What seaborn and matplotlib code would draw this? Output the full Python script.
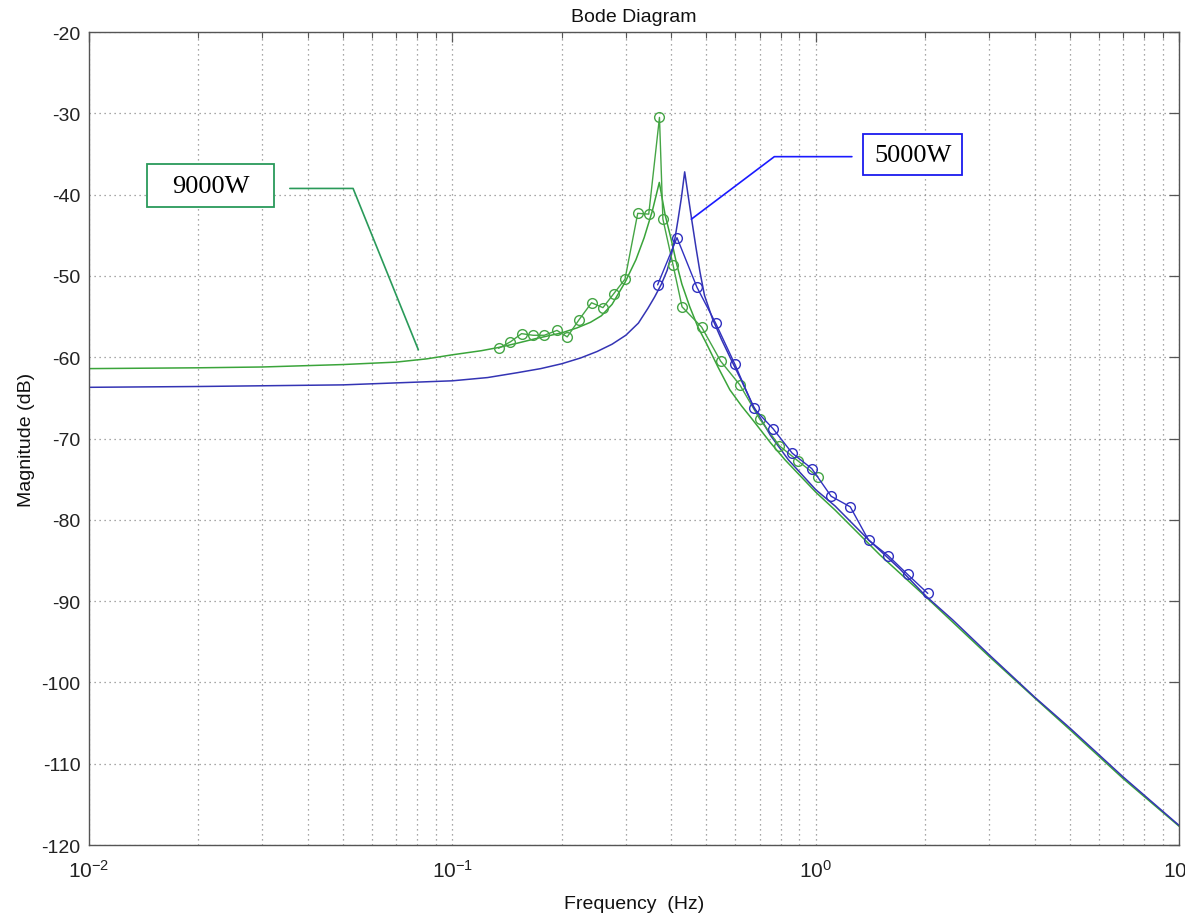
import numpy as np
import matplotlib
matplotlib.use("Agg")
import matplotlib.pyplot as plt
import seaborn as sns
from matplotlib.patches import Rectangle
from matplotlib.ticker import LogLocator, NullFormatter, FixedLocator

# ---------------- data ----------------
green_freq_smooth = [0.01, 0.02, 0.03, 0.05, 0.07, 0.085, 0.1, 0.12, 0.134, 0.15, 0.17,
                     0.2, 0.22, 0.24, 0.257, 0.275, 0.2985, 0.32, 0.337, 0.355, 0.371,
                     0.385, 0.40, 0.414, 0.428, 0.45, 0.474, 0.50, 0.538, 0.58, 0.625,
                     0.665, 0.75, 0.822, 1.0, 1.13, 1.5, 2.0, 3.0, 4.0, 5.0, 7.0, 10.0]
green_db_smooth = [-61.4, -61.3, -61.2, -60.9, -60.6, -60.2, -59.7, -59.2, -58.8, -58.3, -57.7,
                   -57.0, -56.4, -55.7, -54.9, -53.5, -50.8, -48.0, -45.3, -42.0, -38.5,
                   -42.5, -45.5, -48.5, -51.0, -53.8, -56.3, -58.3, -61.2, -64.0, -66.0,
                   -67.5, -70.5, -72.6, -76.6, -78.8, -84.3, -89.4, -96.8, -101.9, -105.8,
                   -111.8, -117.7]

blue_freq_smooth = [0.01, 0.02, 0.05, 0.1, 0.125, 0.151, 0.175, 0.2, 0.225, 0.25, 0.275,
                    0.3, 0.325, 0.345, 0.36, 0.376, 0.39, 0.40, 0.41, 0.418, 0.427, 0.4357,
                    0.446, 0.456, 0.468, 0.48, 0.494, 0.52, 0.55, 0.585, 0.62, 0.673, 0.75,
                    0.84, 1.0, 1.13, 1.4, 1.7, 2.0, 2.38, 3.0, 4.0, 5.0, 7.0, 10.0]
blue_db_smooth = [-63.7, -63.6, -63.4, -62.9, -62.5, -61.9, -61.4, -60.8, -60.1, -59.3, -58.4,
                  -57.3, -55.8, -54.0, -52.6, -51.0, -49.3, -47.5, -45.3, -43.0, -40.3, -37.2,
                  -40.3, -43.2, -46.5, -49.5, -52.4, -55.3, -57.8, -60.3, -62.6, -66.0, -69.6,
                  -72.6, -76.3, -78.3, -82.5, -86.0, -89.3, -92.3, -96.6, -101.8, -105.6,
                  -111.6, -117.6]

green_freq_meas = [0.134, 0.1445, 0.155, 0.1667, 0.179, 0.194, 0.207, 0.223, 0.2415, 0.2596,
                   0.2778, 0.2985, 0.3236, 0.347, 0.3714, 0.3795, 0.4045, 0.4285, 0.4852,
                   0.5476, 0.618, 0.701, 0.794, 0.896, 1.013]
green_db_meas = [-58.9, -58.1, -57.1, -57.3, -57.3, -56.7, -57.5, -55.4, -53.3, -53.9,
                 -52.2, -50.4, -42.3, -42.4, -30.5, -43.0, -48.6, -53.8, -56.3,
                 -60.5, -63.4, -67.6, -70.9, -72.8, -74.7]

blue_freq_meas = [0.367, 0.415, 0.471, 0.530, 0.598, 0.676, 0.763, 0.861, 0.975, 1.102,
                  1.244, 1.397, 1.581, 1.788, 2.033]
blue_db_meas = [-51.1, -45.3, -51.4, -55.8, -60.8, -66.3, -68.8, -71.8, -73.7, -77.1,
                -78.4, -82.5, -84.4, -86.7, -89.05]

y_ticks = list(range(-120, -19, 10))
labels = ["9000W", "5000W"]

# annotation geometry
leader_9000 = ([0.0357, 0.0533, 0.0806], [-39.24, -39.24, -59.09])
leader_5000 = ([1.257, 0.769, 0.4545], [-35.33, -35.33, -43.02])

GREEN = "#3aa43a"
GREEN_M = "#45a545"
BLUE = "#3434b4"
BLUE_M = "#3030c0"

# ---------------- plot ----------------
sns.set_style("white")
plt.rcParams["font.family"] = ["Liberation Sans", "DejaVu Sans"]
plt.rcParams["axes.unicode_minus"] = False
plt.rcParams["mathtext.default"] = "regular"

fig = plt.figure(figsize=(11.85, 9.2), dpi=100)
ax = fig.add_axes([0.0751, 0.0804, 0.9200, 0.8837])

sns.lineplot(x=green_freq_smooth, y=green_db_smooth, ax=ax, color=GREEN, lw=1.1,
             estimator=None, sort=False)
sns.lineplot(x=blue_freq_smooth, y=blue_db_smooth, ax=ax, color=BLUE, lw=1.1,
             estimator=None, sort=False)
sns.lineplot(x=green_freq_meas, y=green_db_meas, ax=ax, color=GREEN_M, lw=1.0,
             estimator=None, sort=False, marker="o", markersize=7,
             markerfacecolor="none", markeredgecolor=GREEN_M, markeredgewidth=1.0)
sns.lineplot(x=blue_freq_meas, y=blue_db_meas, ax=ax, color=BLUE_M, lw=1.0,
             estimator=None, sort=False, marker="o", markersize=7,
             markerfacecolor="none", markeredgecolor=BLUE_M, markeredgewidth=1.0)

ax.set_xscale("log")
ax.set_xlim(0.01, 10)
ax.set_ylim(-120, -20)
ax.yaxis.set_major_locator(FixedLocator(y_ticks))
ax.xaxis.set_major_locator(LogLocator(base=10, numticks=10))
ax.xaxis.set_minor_locator(LogLocator(base=10, subs=np.arange(2, 10), numticks=100))
ax.xaxis.set_minor_formatter(NullFormatter())

ax.grid(True, which="major", ls=(0, (1, 3)), color="#8a8a8a", lw=0.9)
ax.grid(True, which="minor", axis="x", ls=(0, (1, 3)), color="#8a8a8a", lw=0.9)
ax.set_axisbelow(True)

ax.tick_params(which="both", direction="in", top=True, right=True,
               colors="#555555", labelcolor="#222222", labelsize=14)
ax.tick_params(which="major", length=7, width=0.9, pad=6)
ax.tick_params(which="minor", length=4, width=0.8)
ax.tick_params(axis="x", which="major", pad=10, labelsize=15)
for s in ax.spines.values():
    s.set_color("#555555")
    s.set_linewidth(1.0)

ax.set_title("Bode Diagram", fontsize=14, pad=8, color="#111111")
ax.set_xlabel("Frequency  (Hz)", fontsize=14, labelpad=10, color="#111111")
ax.set_ylabel("Magnitude (dB)", fontsize=14, labelpad=5, color="#111111")

# annotations
ax.add_patch(Rectangle((0.0532, 0.7847), 0.1165, 0.0529, transform=ax.transAxes,
                       facecolor="white", edgecolor="#2a9a5a", lw=1.3, zorder=5))
ax.text(0.1115, 0.8111, labels[0], transform=ax.transAxes, ha="center", va="center",
        fontsize=19, family=["Liberation Serif", "DejaVu Serif"], color="black", zorder=6)
ax.plot(*leader_9000, color="#2a9a5a", lw=1.2, zorder=6)

ax.add_patch(Rectangle((0.7101, 0.8241), 0.0908, 0.0504, transform=ax.transAxes,
                       facecolor="white", edgecolor="#1a1aee", lw=1.3, zorder=5))
ax.text(0.7555, 0.8493, labels[1], transform=ax.transAxes, ha="center", va="center",
        fontsize=19, family=["Liberation Serif", "DejaVu Serif"], color="black", zorder=6)
ax.plot(*leader_5000, color="#1a1aff", lw=1.2, zorder=6)

fig.savefig("out.png", dpi=100)
